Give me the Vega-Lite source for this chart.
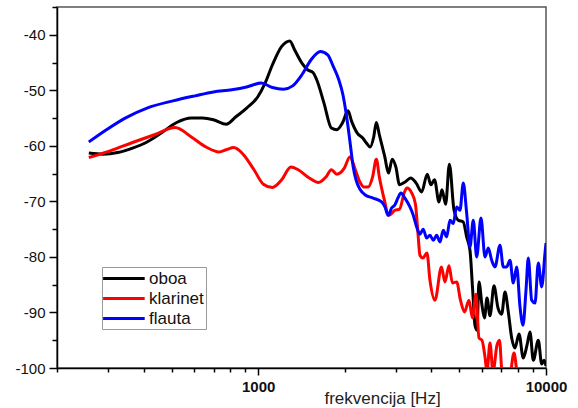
{
  "$schema": "https://vega.github.io/schema/vega-lite/v6.json",
  "width": 489,
  "height": 361,
  "autosize": {"type": "none"},
  "padding": {"left": 57, "top": 7, "right": 32, "bottom": 40},
  "background": "white",
  "config": {"view": {"stroke": "#555", "strokeWidth": 1.5}, "font": "Liberation Sans"},
  "datasets": {
    "d": [
      {"s":"oboa","f":258,"v":-61.3},{"s":"oboa","f":289,"v":-61.5},{"s":"oboa","f":325,"v":-61.2},{"s":"oboa","f":366,"v":-60.4},{"s":"oboa","f":411,"v":-59.3},{"s":"oboa","f":463,"v":-57.6},{"s":"oboa","f":521,"v":-55.8},{"s":"oboa","f":586,"v":-55.0},{"s":"oboa","f":640,"v":-55.0},{"s":"oboa","f":699,"v":-55.3},{"s":"oboa","f":775,"v":-56.1},{"s":"oboa","f":835,"v":-54.8},{"s":"oboa","f":912,"v":-53.2},{"s":"oboa","f":996,"v":-51.2},{"s":"oboa","f":1057,"v":-48.7},{"s":"oboa","f":1121,"v":-45.4},{"s":"oboa","f":1207,"v":-42.1},{"s":"oboa","f":1288,"v":-41.1},{"s":"oboa","f":1338,"v":-42.7},{"s":"oboa","f":1419,"v":-45.1},{"s":"oboa","f":1484,"v":-46.3},{"s":"oboa","f":1550,"v":-46.8},{"s":"oboa","f":1597,"v":-48.1},{"s":"oboa","f":1693,"v":-52.3},{"s":"oboa","f":1796,"v":-56.8},{"s":"oboa","f":1877,"v":-57.1},{"s":"oboa","f":1962,"v":-55.9},{"s":"oboa","f":2052,"v":-53.7},{"s":"oboa","f":2112,"v":-55.6},{"s":"oboa","f":2209,"v":-57.7},{"s":"oboa","f":2308,"v":-58.6},{"s":"oboa","f":2377,"v":-59.5},{"s":"oboa","f":2449,"v":-60.2},{"s":"oboa","f":2520,"v":-58.4},{"s":"oboa","f":2573,"v":-55.8},{"s":"oboa","f":2636,"v":-58.0},{"s":"oboa","f":2754,"v":-62.0},{"s":"oboa","f":2837,"v":-64.9},{"s":"oboa","f":2922,"v":-62.4},{"s":"oboa","f":3008,"v":-63.8},{"s":"oboa","f":3098,"v":-67.0},{"s":"oboa","f":3240,"v":-66.5},{"s":"oboa","f":3386,"v":-65.8},{"s":"oboa","f":3539,"v":-66.7},{"s":"oboa","f":3698,"v":-68.3},{"s":"oboa","f":3867,"v":-65.1},{"s":"oboa","f":3980,"v":-67.0},{"s":"oboa","f":4100,"v":-66.1},{"s":"oboa","f":4247,"v":-70.1},{"s":"oboa","f":4350,"v":-67.9},{"s":"oboa","f":4481,"v":-70.5},{"s":"oboa","f":4616,"v":-63.3},{"s":"oboa","f":4789,"v":-71.5},{"s":"oboa","f":4957,"v":-73.4},{"s":"oboa","f":5159,"v":-73.7},{"s":"oboa","f":5301,"v":-76.4},{"s":"oboa","f":5443,"v":-78.8},{"s":"oboa","f":5562,"v":-86.0},{"s":"oboa","f":5665,"v":-92.3},{"s":"oboa","f":5757,"v":-93.2},{"s":"oboa","f":5850,"v":-84.5},{"s":"oboa","f":5992,"v":-88.7},{"s":"oboa","f":6113,"v":-91.0},{"s":"oboa","f":6237,"v":-87.4},{"s":"oboa","f":6388,"v":-90.6},{"s":"oboa","f":6596,"v":-85.2},{"s":"oboa","f":6811,"v":-89.2},{"s":"oboa","f":7015,"v":-90.3},{"s":"oboa","f":7203,"v":-86.3},{"s":"oboa","f":7396,"v":-89.9},{"s":"oboa","f":7600,"v":-94.6},{"s":"oboa","f":7803,"v":-96.4},{"s":"oboa","f":8057,"v":-93.9},{"s":"oboa","f":8339,"v":-98.2},{"s":"oboa","f":8590,"v":-95.9},{"s":"oboa","f":8798,"v":-93.5},{"s":"oboa","f":9034,"v":-98.6},{"s":"oboa","f":9402,"v":-95.0},{"s":"oboa","f":9661,"v":-99.3},{"s":"oboa","f":9841,"v":-98.6},{"s":"oboa","f":10000,"v":-99.6},
      {"s":"klarinet","f":258,"v":-62.1},{"s":"klarinet","f":306,"v":-60.9},{"s":"klarinet","f":366,"v":-59.4},{"s":"klarinet","f":436,"v":-58.0},{"s":"klarinet","f":515,"v":-56.7},{"s":"klarinet","f":586,"v":-58.4},{"s":"klarinet","f":659,"v":-60.2},{"s":"klarinet","f":731,"v":-61.1},{"s":"klarinet","f":775,"v":-60.7},{"s":"klarinet","f":823,"v":-60.3},{"s":"klarinet","f":886,"v":-61.5},{"s":"klarinet","f":967,"v":-64.3},{"s":"klarinet","f":1042,"v":-66.9},{"s":"klarinet","f":1121,"v":-67.5},{"s":"klarinet","f":1207,"v":-66.1},{"s":"klarinet","f":1299,"v":-63.8},{"s":"klarinet","f":1377,"v":-64.3},{"s":"klarinet","f":1505,"v":-65.8},{"s":"klarinet","f":1620,"v":-66.6},{"s":"klarinet","f":1720,"v":-65.6},{"s":"klarinet","f":1796,"v":-64.3},{"s":"klarinet","f":1877,"v":-65.1},{"s":"klarinet","f":1992,"v":-64.0},{"s":"klarinet","f":2082,"v":-62.0},{"s":"klarinet","f":2175,"v":-64.3},{"s":"klarinet","f":2257,"v":-66.5},{"s":"klarinet","f":2330,"v":-67.4},{"s":"klarinet","f":2412,"v":-67.4},{"s":"klarinet","f":2498,"v":-65.6},{"s":"klarinet","f":2573,"v":-62.4},{"s":"klarinet","f":2636,"v":-65.6},{"s":"klarinet","f":2754,"v":-70.1},{"s":"klarinet","f":2830,"v":-72.5},{"s":"klarinet","f":2892,"v":-72.3},{"s":"klarinet","f":2986,"v":-71.6},{"s":"klarinet","f":3098,"v":-71.4},{"s":"klarinet","f":3220,"v":-68.4},{"s":"klarinet","f":3287,"v":-67.6},{"s":"klarinet","f":3416,"v":-68.5},{"s":"klarinet","f":3519,"v":-70.5},{"s":"klarinet","f":3590,"v":-75.7},{"s":"klarinet","f":3648,"v":-79.7},{"s":"klarinet","f":3736,"v":-80.2},{"s":"klarinet","f":3858,"v":-79.3},{"s":"klarinet","f":3952,"v":-84.2},{"s":"klarinet","f":4113,"v":-87.8},{"s":"klarinet","f":4333,"v":-81.8},{"s":"klarinet","f":4456,"v":-84.5},{"s":"klarinet","f":4601,"v":-81.6},{"s":"klarinet","f":4732,"v":-84.7},{"s":"klarinet","f":4893,"v":-84.5},{"s":"klarinet","f":5045,"v":-87.8},{"s":"klarinet","f":5209,"v":-89.9},{"s":"klarinet","f":5400,"v":-87.8},{"s":"klarinet","f":5553,"v":-91.0},{"s":"klarinet","f":5711,"v":-86.7},{"s":"klarinet","f":5850,"v":-94.6},{"s":"klarinet","f":5992,"v":-95.0},{"s":"klarinet","f":6138,"v":-98.0},{"s":"klarinet","f":6237,"v":-100.7},{"s":"klarinet","f":6388,"v":-95.5},{"s":"klarinet","f":6543,"v":-100.7},{"s":"klarinet","f":6756,"v":-95.9},{"s":"klarinet","f":6893,"v":-95.0},{"s":"klarinet","f":7032,"v":-100.7},{"s":"klarinet","f":7261,"v":-102.2},{"s":"klarinet","f":7497,"v":-101.3},{"s":"klarinet","f":7741,"v":-97.3},{"s":"klarinet","f":7929,"v":-100.7},{"s":"klarinet","f":8187,"v":-103.1},{"s":"klarinet","f":8798,"v":-105},{"s":"klarinet","f":10000,"v":-106},
      {"s":"flauta","f":258,"v":-59.3},{"s":"flauta","f":297,"v":-57.1},{"s":"flauta","f":345,"v":-55.0},{"s":"flauta","f":411,"v":-53.2},{"s":"flauta","f":506,"v":-51.9},{"s":"flauta","f":603,"v":-51.0},{"s":"flauta","f":699,"v":-50.3},{"s":"flauta","f":810,"v":-49.9},{"s":"flauta","f":912,"v":-49.4},{"s":"flauta","f":1026,"v":-48.7},{"s":"flauta","f":1121,"v":-49.5},{"s":"flauta","f":1224,"v":-49.8},{"s":"flauta","f":1318,"v":-49.2},{"s":"flauta","f":1419,"v":-47.2},{"s":"flauta","f":1527,"v":-44.5},{"s":"flauta","f":1644,"v":-43.0},{"s":"flauta","f":1744,"v":-43.6},{"s":"flauta","f":1823,"v":-45.7},{"s":"flauta","f":1906,"v":-48.1},{"s":"flauta","f":1970,"v":-50.8},{"s":"flauta","f":2018,"v":-53.9},{"s":"flauta","f":2055,"v":-56.8},{"s":"flauta","f":2095,"v":-60.2},{"s":"flauta","f":2139,"v":-63.8},{"s":"flauta","f":2186,"v":-66.1},{"s":"flauta","f":2257,"v":-67.8},{"s":"flauta","f":2349,"v":-68.8},{"s":"flauta","f":2510,"v":-69.4},{"s":"flauta","f":2685,"v":-70.1},{"s":"flauta","f":2757,"v":-71.0},{"s":"flauta","f":2830,"v":-72.5},{"s":"flauta","f":2908,"v":-71.2},{"s":"flauta","f":2986,"v":-70.6},{"s":"flauta","f":3059,"v":-69.4},{"s":"flauta","f":3133,"v":-68.5},{"s":"flauta","f":3235,"v":-69.4},{"s":"flauta","f":3367,"v":-71.0},{"s":"flauta","f":3449,"v":-72.3},{"s":"flauta","f":3553,"v":-74.6},{"s":"flauta","f":3648,"v":-75.9},{"s":"flauta","f":3745,"v":-75.0},{"s":"flauta","f":3849,"v":-76.6},{"s":"flauta","f":3952,"v":-76.1},{"s":"flauta","f":4058,"v":-77.0},{"s":"flauta","f":4170,"v":-76.1},{"s":"flauta","f":4281,"v":-77.3},{"s":"flauta","f":4396,"v":-75.2},{"s":"flauta","f":4517,"v":-76.4},{"s":"flauta","f":4638,"v":-73.4},{"s":"flauta","f":4762,"v":-74.0},{"s":"flauta","f":4893,"v":-71.0},{"s":"flauta","f":5025,"v":-71.6},{"s":"flauta","f":5159,"v":-66.7},{"s":"flauta","f":5301,"v":-72.1},{"s":"flauta","f":5443,"v":-78.2},{"s":"flauta","f":5589,"v":-73.4},{"s":"flauta","f":5743,"v":-80.0},{"s":"flauta","f":5944,"v":-73.0},{"s":"flauta","f":6138,"v":-80.0},{"s":"flauta","f":6302,"v":-78.4},{"s":"flauta","f":6476,"v":-80.6},{"s":"flauta","f":6649,"v":-81.8},{"s":"flauta","f":6921,"v":-77.9},{"s":"flauta","f":7106,"v":-81.8},{"s":"flauta","f":7302,"v":-81.8},{"s":"flauta","f":7497,"v":-80.6},{"s":"flauta","f":7698,"v":-84.7},{"s":"flauta","f":7910,"v":-81.8},{"s":"flauta","f":8122,"v":-89.0},{"s":"flauta","f":8319,"v":-92.3},{"s":"flauta","f":8521,"v":-86.0},{"s":"flauta","f":8680,"v":-80.2},{"s":"flauta","f":8919,"v":-87.8},{"s":"flauta","f":9158,"v":-88.3},{"s":"flauta","f":9402,"v":-81.1},{"s":"flauta","f":9661,"v":-85.4},{"s":"flauta","f":9920,"v":-79.3},{"s":"flauta","f":10000,"v":-77.5}
    ]
  },
  "data": {"name": "d"},
  "mark": {"type": "line", "strokeWidth": 3, "interpolate": "monotone", "clip": true},
  "encoding": {
    "x": {
      "field": "f", "type": "quantitative",
      "scale": {"type": "log", "domain": [200, 10000], "nice": false},
      "axis": {
        "values": [200,300,400,500,600,700,800,900,1000,2000,3000,4000,5000,6000,7000,8000,9000,10000],
        "labelExpr": "datum.value == 1000 || datum.value == 10000 ? format(datum.value, 'd') : ''",
        "labelFont": "Liberation Sans", "labelFontSize": 15, "labelFontWeight": "bold", "labelColor": "#111",
        "labelFlush": false, "labelOverlap": false, "labelPadding": 4,
        "tickSize": {"condition": {"test": "datum.value == 1000 || datum.value == 10000", "value": 7}, "value": 4},
        "tickColor": "#000", "tickWidth": 1.5, "domainColor": "#000", "domainWidth": 1.5, "grid": false,
        "title": "frekvencija [Hz]", "titleFont": "Liberation Sans", "titleFontSize": 17, "titleFontWeight": "normal",
        "titleColor": "#222", "titleX": 325, "titleY": 30, "titleBaseline": "middle", "titleAlign": "center"
      }
    },
    "y": {
      "field": "v", "type": "quantitative",
      "scale": {"domain": [-100, -35], "nice": false, "zero": false},
      "axis": {
        "values": [-100,-95,-90,-85,-80,-75,-70,-65,-60,-55,-50,-45,-40,-35],
        "labelExpr": "datum.value % 10 == 0 ? '' + datum.value : ''",
        "labelFont": "Liberation Sans", "labelFontSize": 15, "labelColor": "#111", "labelPadding": 4,
        "labelOverlap": false, "labelFlush": false,
        "tickSize": {"condition": {"test": "datum.value % 10 == 0", "value": 8}, "value": 5},
        "tickColor": "#000", "tickWidth": 1.5, "domainColor": "#000", "domainWidth": 1.5, "grid": false,
        "title": null
      }
    },
    "color": {
      "field": "s", "type": "nominal",
      "scale": {"domain": ["oboa", "klarinet", "flauta"], "range": ["#000000", "#ff0000", "#0000ff"]},
      "legend": {
        "orient": "none", "legendX": 45, "legendY": 260, "title": null,
        "symbolType": "M-1.3,0H3.9", "symbolSize": 256, "symbolStrokeWidth": 3,
        "labelFont": "Liberation Sans", "labelFontSize": 17, "labelColor": "#111", "labelOffset": 26,
        "strokeColor": "#999", "fillColor": "#ffffff", "padding": 2, "rowPadding": 2
      }
    }
  }
}
